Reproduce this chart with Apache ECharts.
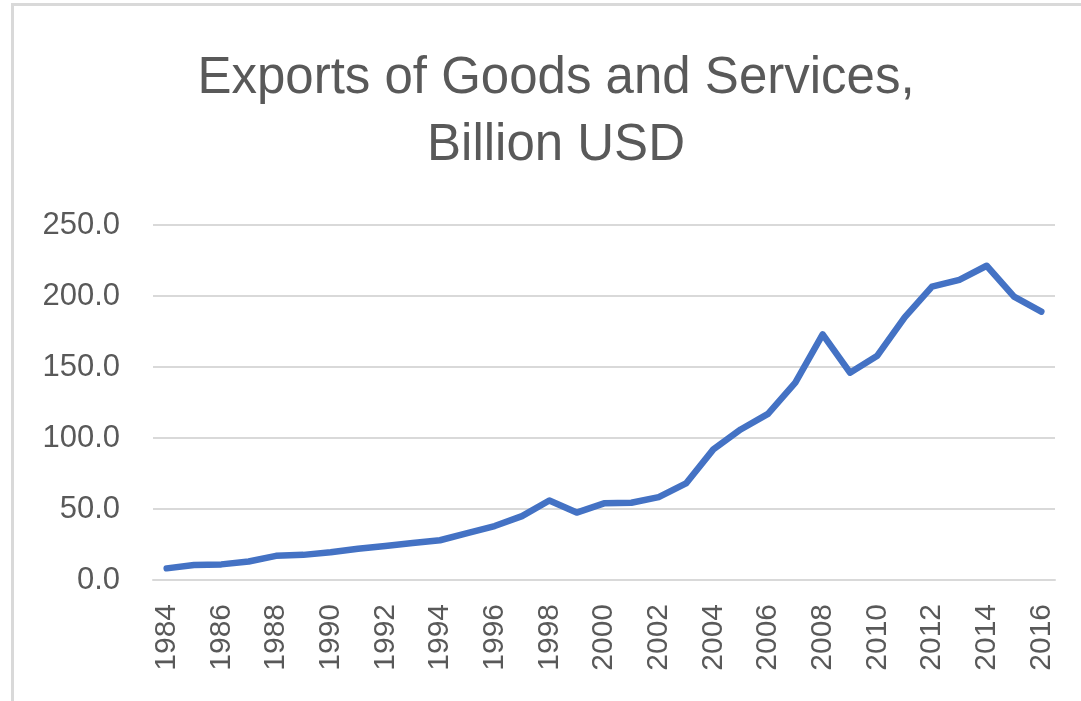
<!DOCTYPE html>
<html>
<head>
<meta charset="utf-8">
<script src="https://cdn.jsdelivr.net/npm/echarts@6/dist/echarts.min.js"></script>
<style>
html,body{margin:0;padding:0;background:#fff;}
#chart{width:1081px;height:701px;}
</style>
</head>
<body>
<div id="chart"></div>
<script>
const titleText = 'Exports of Goods and Services,\nBillion USD';
const years = ['1984','1985','1986','1987','1988','1989','1990','1991','1992','1993','1994','1995','1996','1997','1998','1999','2000','2001','2002','2003','2004','2005','2006','2007','2008','2009','2010','2011','2012','2013','2014','2015','2016'];
const exportsBn = [8.2, 10.5, 11.0, 13.0, 17.0, 17.7, 19.5, 22.0, 24.0, 26.0, 28.0, 33.0, 38.0, 45.0, 56.0, 47.5, 54.0, 54.4, 58.4, 68.0, 92.0, 106.0, 117.0, 139.0, 173.0, 146.0, 158.0, 185.0, 206.6, 211.4, 221.3, 199.5, 189.0];
const yMin = 0, yMax = 250, yStep = 50;

const chart = echarts.init(document.getElementById('chart'), null, {renderer:'canvas'});
chart.setOption({
  animation: false,
  backgroundColor: '#ffffff',
  graphic: [{
    type: 'rect', silent: true, z: -1,
    shape: {x: 12.5, y: 4.5, width: 1200, height: 800},
    style: {fill: 'none', stroke: '#d9d9d9', lineWidth: 3}
  }],
  title: {
    text: titleText,
    left: 551,
    top: 40,
    textAlign: 'center',
    textStyle: {
      fontFamily: 'Liberation Sans, Arial, sans-serif',
      fontSize: 51,
      fontWeight: 'normal',
      color: '#595959',
      lineHeight: 67
    }
  },
  grid: {left: 153, right: 26, top: 225, bottom: 121},
  xAxis: {
    type: 'category',
    data: years,
    boundaryGap: true,
    axisLine: {lineStyle: {color: '#d9d9d9', width: 2}},
    axisTick: {show: false},
    axisLabel: {
      rotate: 90,
      interval: 1,
      margin: 24,
      fontFamily: 'Liberation Sans, Arial, sans-serif',
      fontSize: 30,
      color: '#595959'
    }
  },
  yAxis: {
    type: 'value',
    min: yMin, max: yMax, interval: yStep,
    axisLine: {show: false},
    axisTick: {show: false},
    splitLine: {lineStyle: {color: '#d9d9d9', width: 2}},
    axisLabel: {
      margin: 33,
      fontFamily: 'Liberation Sans, Arial, sans-serif',
      fontSize: 31,
      color: '#595959',
      formatter: v => v.toFixed(1)
    }
  },
  series: [{
    type: 'line',
    data: exportsBn,
    showSymbol: false,
    symbol: 'none',
    lineStyle: {color: '#4472C4', width: 6.5, join: 'round', cap: 'round'},
    itemStyle: {color: '#4472C4'}
  }]
});
</script>
</body>
</html>
